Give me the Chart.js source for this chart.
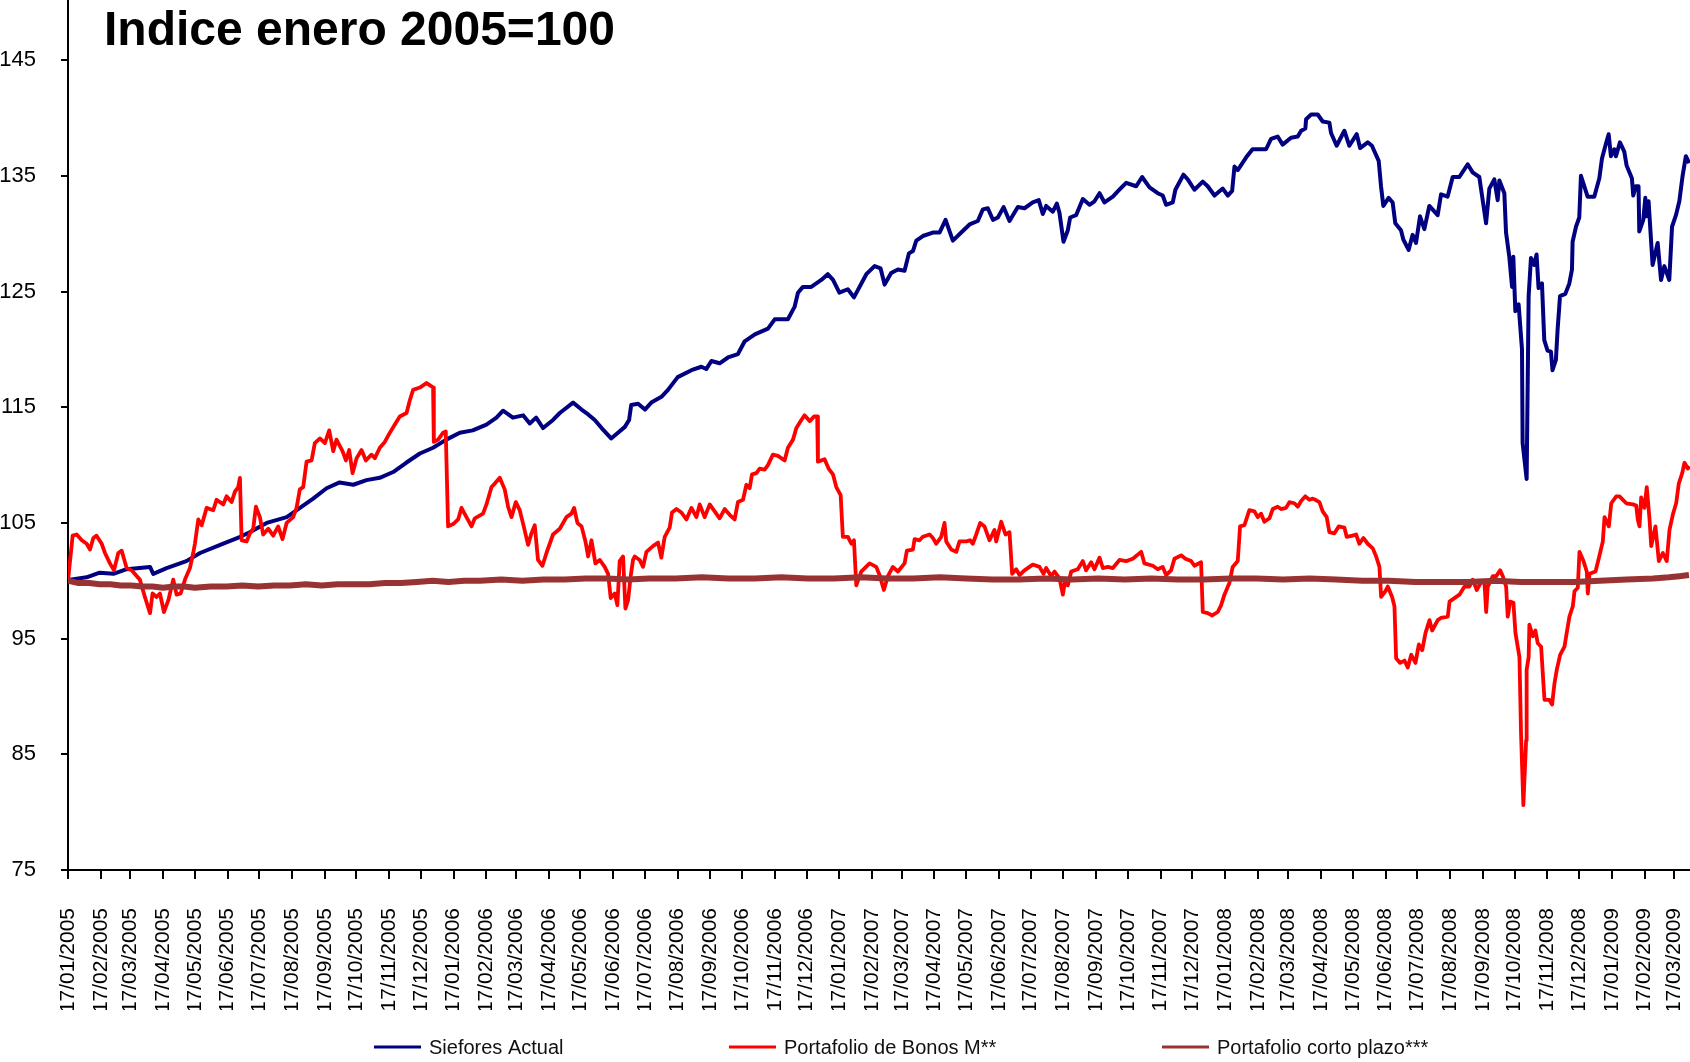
<!DOCTYPE html>
<html>
<head>
<meta charset="utf-8">
<script src="https://cdn.jsdelivr.net/npm/chart.js@4.4.1/dist/chart.umd.min.js"></script>
<style>
html,body{margin:0;padding:0;background:#fff;}
#wrap{width:1690px;height:1062px;position:relative;}
</style>
</head>
<body>
<div id="wrap"><canvas id="c" width="1690" height="1062"></canvas></div>
<script>
// ---- Data (x = days since 17/01/2005) ----
const chartTitle = 'Indice enero 2005=100';
const seriesNames = ['Siefores Actual', 'Portafolio de Bonos M**', 'Portafolio corto plazo***'];
const yTicks = [75, 85, 95, 105, 115, 125, 135, 145];
const tickLabels = [
 '17/01/2005','17/02/2005','17/03/2005','17/04/2005','17/05/2005','17/06/2005','17/07/2005','17/08/2005','17/09/2005','17/10/2005','17/11/2005','17/12/2005',
 '17/01/2006','17/02/2006','17/03/2006','17/04/2006','17/05/2006','17/06/2006','17/07/2006','17/08/2006','17/09/2006','17/10/2006','17/11/2006','17/12/2006',
 '17/01/2007','17/02/2007','17/03/2007','17/04/2007','17/05/2007','17/06/2007','17/07/2007','17/08/2007','17/09/2007','17/10/2007','17/11/2007','17/12/2007',
 '17/01/2008','17/02/2008','17/03/2008','17/04/2008','17/05/2008','17/06/2008','17/07/2008','17/08/2008','17/09/2008','17/10/2008','17/11/2008','17/12/2008',
 '17/01/2009','17/02/2009','17/03/2009'
];

const sieforesDay = [
 0,2,17.6,30,43,55.5,77.6,80.7,93.3,112,
 125,144,163,172,188,207,219.5,232,244.7,257,
 270,282.5,295,307.7,320,333,345.5,358,370.8,383,
 396,405.5,411.7,421,430.7,437,443,449.6,459,465.4,
 478,486,492,498.5,505,514,520.5,527,531,533,
 539.5,546,552,561.6,567.8,577,590,599.4,604,608.9,
 616.7,624.6,634,640.4,650,662.4,668.8,681.3,687.7,690.8,
 695.5,703.4,712.9,719,724,730,738,743.8,755.5,763.3,
 769,772.8,779,785.4,791.7,795.8,799.6,802.8,809,818.5,
 824.8,830.5,837.4,845.3,853.2,861,865.8,870.5,875.3,880,
 885.4,891,898.9,905.2,913,918.7,922.5,925.7,932,935.8,
 938.3,942.1,946.2,948.4,954,960.4,966.7,971.4,976.2,980.9,
 988.8,995,1001.4,1010.9,1016.5,1023.5,1031.3,1036,1039.2,1045.5,
 1048,1055.6,1059.7,1066,1073.9,1078.6,1085,1092.8,1097.6,1101.7,
 1103.9,1107,1115,1121,1133.8,1138.5,1144.8,1149.5,1157.4,1163.8,
 1167,1171,1171.7,1176.4,1182.7,1187.4,1193.7,1195.3,1200.6,1207.9,
 1212.6,1219.6,1222.8,1230,1234,1240.4,1242.6,1244.8,1249.8,1253.6,
 1256.1,1261.5,1263.7,1268.7,1272.5,1275.7,1279.5,1283.6,1288.3,1296.2,
 1299.4,1305.6,1310.4,1316.7,1324.6,1329.3,1335.6,1342,1345.1,1349.8,
 1353,1354.6,1359.3,1360.9,1364,1366.6,1367.8,1369.7,1372.8,1376,
 1376.6,1380.4,1382.3,1384.5,1387.6,1389.8,1391.7,1394.9,1397.1,1400.2,
 1403.4,1404.9,1408.1,1409.7,1412,1417,1420.8,1423.3,1423.9,1427.1,
 1430.2,1431.8,1438.1,1444.4,1449.2,1451.7,1455.5,1458,1460.2,1463.4,
 1464.9,1468.7,1472.8,1475,1480,1481.3,1483.8,1486.3,1487,1490.8,
 1492.7,1494,1495.8,1499.6,1504.4,1507.6,1510.7,1515.4,1518,1521.7,
 1524.9,1528,1531.1,1534.2
];
const sieforesValue = [
 100.0,100.1,100.3,100.7,100.6,101.0,101.2,100.6,101.1,101.7,
 102.4,103.1,103.8,104.2,105.0,105.5,106.3,107.1,108.0,108.5,
 108.3,108.7,108.9,109.4,110.2,111.0,111.5,112.2,112.8,113.0,
 113.5,114.1,114.7,114.1,114.3,113.6,114.1,113.2,113.9,114.5,
 115.4,114.8,114.4,113.9,113.2,112.3,112.8,113.3,113.9,115.2,
 115.3,114.8,115.4,115.9,116.5,117.6,118.2,118.5,118.3,119.0,
 118.8,119.3,119.6,120.7,121.3,121.8,122.6,122.6,123.7,124.9,
 125.4,125.4,126.0,126.5,126.0,124.9,125.2,124.5,126.5,127.2,
 127.0,125.6,126.6,126.9,126.8,128.3,128.5,129.4,129.8,130.1,
 130.1,131.2,129.4,130.1,130.8,131.1,132.1,132.2,131.2,131.4,
 132.3,131.1,132.3,132.2,132.7,132.9,131.7,132.4,131.9,132.6,
 131.8,129.3,130.3,131.4,131.6,133.0,132.5,132.8,133.5,132.7,
 133.2,133.8,134.4,134.1,134.9,134.0,133.5,133.3,132.5,132.7,
 133.8,135.1,134.7,133.8,134.5,134.1,133.3,133.9,133.3,133.7,
 135.8,135.5,136.6,137.3,137.3,138.2,138.4,137.7,138.3,138.4,
 138.9,139.1,139.9,140.3,140.3,139.7,139.6,138.7,137.6,138.9,
 137.6,138.6,137.4,137.9,137.6,136.3,134.1,132.4,133.1,132.7,
 130.9,130.3,129.5,128.6,129.9,129.2,131.5,130.4,132.4,131.6,
 133.4,133.2,134.9,134.9,136.0,135.3,134.9,130.9,133.9,134.7,
 132.9,134.6,133.5,130.1,128.0,125.4,128.0,123.3,123.9,120.0,
 111.9,108.8,124.6,127.9,127.3,128.2,125.3,125.7,120.8,119.9,
 119.8,118.2,119.1,121.7,124.6,124.8,125.7,126.9,129.3,130.6,
 131.4,135.0,133.2,133.2,134.8,136.5,137.8,138.6,136.7,137.3,
 136.7,137.9,137.1,135.9,134.8,133.3,134.1,134.1,130.2,131.2,
 133.1,131.5,132.8,127.3,129.2,126.0,127.2,126.0,130.6,131.6,
 132.8,135.0,136.7,136.1
];

const bonosDay = [
 0,4.4,8.2,13,17.7,20.8,24,27,31.9,35,
 39.7,43.5,47.6,50.8,55.5,60.2,68,72.8,77.6,80,
 83.8,87,90.8,94.9,99.6,102.8,106.6,110.7,115.4,118.5,
 120.1,123.3,126.5,131.2,137.5,140.6,146.9,150.1,154.8,158,
 161.1,162.7,164.3,169,172.2,175.3,177.8,181.6,184.7,189.5,
 194.2,198.9,203,206.9,213.1,216.3,219.4,222.6,225.8,230.5,
 233.6,238.4,243.1,247.2,251,254.1,259.8,263,266.1,269.3,
 273.1,277.8,281.9,287.2,290.4,295.1,299.8,304.6,309.3,314,
 320.4,323.5,326.6,333,339.3,344,345.5,346.2,350.3,355,
 357.5,359.7,364.5,369.2,372.4,377.1,381.9,385,392.8,396,
 400.8,403.9,408.6,413.3,416.5,419.7,423.8,427.5,431.3,435.4,
 438.6,441.7,444.8,449,452.8,459,465.4,471.7,476.4,479,
 482.1,486,489.7,492.2,495.4,499.1,503.2,507.9,511.1,513.6,
 517.4,519.9,522.1,525.3,527.5,530,532.5,534.7,536.3,541,
 544.2,547.4,553.6,558.4,561.5,564.7,569.4,571.6,575.8,580.5,
 585.2,590,594.7,597.8,602.5,607.3,612,616.7,621.4,626.2,
 630.9,634,638.8,642,645.1,647.3,651.4,654.6,659.3,662.4,
 667.1,671.9,678.2,681.3,686.1,689.3,694,697,702,706,
 709,709.7,716,719.8,723.9,727.1,731.2,733.3,738.1,741.3,
 743.8,746,750.7,758.6,764.9,768,772.1,775.9,780.6,785.4,
 791.7,793.9,799.6,801.2,805.9,809,815.4,818.5,821.7,826.4,
 829.5,831.1,835.9,840.6,843.7,850.1,853.8,856.3,859.5,863.3,
 867.3,872.1,876.8,878.4,883.2,887.2,891,893.5,897.3,900.5,
 905.2,909.9,913,919.4,923.2,925.7,930.5,933.6,938.3,941.5,
 943.7,946.2,949.4,955.6,960.4,963.5,968.3,971.4,976.2,979.3,
 984,988.8,995.1,1001.4,1007.7,1015.6,1018.7,1026.6,1031.3,1036,
 1039.2,1043.9,1047.1,1053.4,1057.5,1062.9,1066,1072.3,1073.9,1078.6,
 1082.8,1088.1,1091.3,1094.4,1099.1,1102.2,1107,1109.2,1113.3,1118,
 1122.8,1125.9,1129.1,1132.2,1137,1140.1,1144.8,1148,1152.7,1155.9,
 1160.6,1163.8,1167,1171,1174.8,1178,1180.5,1184.3,1187.4,1191.2,
 1193.7,1198.5,1202.5,1207.9,1210.1,1215.8,1219,1222.1,1225.9,1230,
 1234.8,1238,1241.1,1242.7,1246.8,1249,1253.1,1255.3,1256.9,1260.7,
 1264.8,1267.9,1271.2,1275.2,1278.4,1281.6,1284.7,1288.5,1291,1296.3,
 1299.5,1305.8,1307.4,1312.1,1316.8,1321.6,1326.3,1329.4,1333.2,1337.4,
 1340.5,1342.1,1343.6,1348.4,1351.6,1355.3,1357.8,1361,1362.5,1364.8,
 1367.9,1369.8,1373.6,1375.1,1377.3,1379.9,1380.4,1382.3,1383,1386.2,
 1388.7,1390.9,1394.1,1396.3,1397.3,1402,1404.5,1406.7,1408.9,1412.1,
 1416.2,1417.8,1420.9,1424.1,1425.7,1428.8,1430.4,1434.2,1437.3,1438.3,
 1439.9,1445.6,1449.4,1452.5,1454.1,1458.2,1460.5,1465.2,1468.3,1474.7,
 1480.9,1484.1,1485.6,1487.2,1488.8,1491.9,1494.1,1496.7,1498.3,1502.3,
 1505.5,1509.3,1513,1515.6,1518.7,1521.9,1524.4,1527.6,1529.8,1532.9,
 1534.5
];
const bonosValue = [
 100.0,103.9,104.0,103.5,103.2,102.7,103.7,103.9,103.2,102.4,
 101.5,100.9,102.4,102.6,101.1,100.9,100.1,98.6,97.2,98.9,
 98.6,98.9,97.3,98.3,100.1,98.8,98.9,100.1,101.1,102.4,
 103.2,105.3,104.8,106.3,106.1,107.0,106.6,107.3,106.8,107.7,
 108.1,108.9,103.5,103.4,104.1,104.5,106.4,105.5,104.0,104.5,
 103.9,104.7,103.6,105.0,105.5,106.3,107.9,108.1,110.3,110.4,
 111.9,112.3,111.9,113.0,111.2,112.2,111.2,110.4,111.3,109.3,
 110.6,111.3,110.4,110.9,110.6,111.5,112.0,112.8,113.5,114.2,
 114.5,115.6,116.5,116.7,117.1,116.8,116.7,112.0,112.2,112.8,
 112.9,104.7,104.9,105.3,106.3,105.5,104.7,105.4,105.8,106.6,
 108.1,108.4,108.9,107.9,106.4,105.5,106.8,106.1,104.7,103.1,
 104.1,104.8,101.8,101.3,102.4,104.0,104.5,105.5,105.8,106.3,
 105.0,104.7,103.4,102.1,103.5,101.5,101.8,101.2,100.6,98.5,
 98.9,97.9,101.7,102.1,97.6,98.3,100.4,101.8,102.1,101.8,
 101.2,102.5,103.0,103.3,102.0,103.8,104.6,105.9,106.2,105.9,
 105.3,106.3,105.5,106.6,105.5,106.6,106.0,105.4,106.2,105.7,
 105.3,106.8,107.0,108.3,108.0,109.2,109.3,109.7,109.6,110.0,
 110.9,110.8,110.4,111.5,112.2,113.2,113.9,114.3,113.8,114.2,
 114.2,110.3,110.5,109.7,109.2,108.1,107.4,103.8,103.8,103.2,
 103.5,99.6,100.8,101.5,101.2,100.5,99.2,100.4,101.2,100.8,
 101.5,102.6,102.7,103.6,103.5,103.8,104.0,103.7,103.2,103.8,
 105.0,103.4,102.7,102.5,103.4,103.4,103.5,103.2,104.0,105.0,
 104.7,103.5,104.4,103.4,105.1,104.0,104.2,100.6,101.0,100.5,
 100.9,101.2,101.4,101.2,100.6,101.1,100.4,100.8,100.2,98.8,
 100.1,99.6,100.8,101.0,101.7,100.9,101.6,101.0,102.0,101.1,
 101.2,101.1,101.8,101.7,101.9,102.5,101.5,101.3,101.0,101.2,
 100.5,100.9,101.9,102.2,101.9,101.7,101.3,101.6,97.3,97.2,
 97.0,97.3,97.9,98.8,99.8,101.2,101.7,104.7,104.8,106.1,
 106.0,105.5,105.8,105.1,105.4,106.2,106.4,106.2,106.3,106.8,
 106.7,106.4,106.9,107.3,107.0,107.1,107.0,106.8,106.0,105.5,
 104.2,104.1,104.7,104.6,103.8,103.9,104.0,103.2,103.7,103.2,
 102.8,102.1,101.2,98.6,99.1,99.5,98.6,97.8,93.3,92.9,
 93.1,92.5,93.6,92.9,94.5,94.0,95.5,96.6,95.7,96.6,
 96.8,96.9,98.2,98.5,98.8,99.5,99.5,100.1,99.2,99.9,
 99.8,97.3,99.5,100.4,100.4,100.9,100.4,99.5,96.9,98.2,
 98.1,95.5,93.4,86.8,80.6,86.2,92.3,93.4,96.2,95.2,
 95.7,94.6,94.3,91.1,89.7,89.7,89.3,91.1,92.3,93.6,
 94.3,95.2,96.9,97.8,99.1,99.4,102.5,101.7,100.8,98.9,
 100.6,100.8,102.2,103.4,105.5,104.7,106.7,107.3,107.3,106.7,
 106.6,106.5,105.3,104.7,107.2,106.3,108.1,105.3,103.0,104.7,
 101.7,102.4,101.7,104.4,105.7,106.7,108.4,109.3,110.2,109.7,
 109.9
];

const cortoDay = [
 0,10,20,30,40,50,60,70,80,90,
 100,110,120,135,150,165,180,195,210,225,
 240,255,270,285,300,315,330,345,360,375,
 390,410,430,450,470,490,510,530,550,575,
 600,625,650,675,700,725,750,775,800,825,
 850,875,900,925,950,975,1000,1025,1050,1075,
 1100,1125,1150,1175,1200,1225,1250,1275,1300,1325,
 1350,1375,1400,1425,1450,1475,1500,1515,1525,1534
];
const cortoValue = [
 100.0,99.8,99.8,99.7,99.7,99.6,99.6,99.5,99.5,99.4,
 99.5,99.5,99.4,99.5,99.5,99.6,99.5,99.6,99.6,99.7,
 99.6,99.7,99.7,99.7,99.8,99.8,99.9,100.0,99.9,100.0,
 100.0,100.1,100.0,100.1,100.1,100.2,100.2,100.1,100.2,100.2,
 100.3,100.2,100.2,100.3,100.2,100.2,100.3,100.2,100.2,100.3,
 100.2,100.1,100.1,100.2,100.1,100.2,100.1,100.2,100.1,100.1,
 100.2,100.2,100.1,100.2,100.1,100.0,100.0,99.9,99.9,99.9,
 100.0,99.9,99.9,99.9,100.0,100.1,100.2,100.3,100.4,100.5
];

// ---- Helpers ----
function dayOffset(label) {
  const [d, m, y] = label.split('/').map(Number);
  return Math.round((Date.UTC(y, m - 1, d) - Date.UTC(2005, 0, 17)) / 86400000);
}
const tickDays = tickLabels.map(dayOffset);
function toXY(xs, ys) { return xs.map((x, i) => ({ x: x, y: ys[i] })); }

const FAM = '"Liberation Sans", Arial, Helvetica, sans-serif';
Chart.defaults.font.family = FAM;
const colors = ['#000080', '#FF0000', '#993333'];

const decor = {
  id: 'decor',
  afterDraw(chart) {
    const c = chart.ctx;
    c.save();
    c.fillStyle = '#000';
    c.font = 'bold 48px ' + FAM;
    c.textAlign = 'left';
    c.textBaseline = 'alphabetic';
    c.fillText(chartTitle, 104, 45);
    // legend
    const lx = [374, 729, 1162];
    const ly = 1047;
    c.font = '20px ' + FAM;
    c.textBaseline = 'middle';
    chart.data.datasets.forEach((ds, i) => {
      c.strokeStyle = ds.borderColor;
      c.lineWidth = 3;
      c.beginPath();
      c.moveTo(lx[i], ly);
      c.lineTo(lx[i] + 47, ly);
      c.stroke();
      c.fillStyle = '#111';
      c.fillText(ds.label, lx[i] + 55, ly + 1);
    });
    c.restore();
  }
};

new Chart(document.getElementById('c'), {
  type: 'line',
  data: {
    datasets: [
      { label: seriesNames[0], data: toXY(sieforesDay, sieforesValue), borderColor: colors[0], backgroundColor: colors[0], borderWidth: 4, pointRadius: 0, tension: 0, borderJoinStyle: 'round', order: 2 },
      { label: seriesNames[1], data: toXY(bonosDay, bonosValue), borderColor: colors[1], backgroundColor: colors[1], borderWidth: 3.8, pointRadius: 0, tension: 0, borderJoinStyle: 'round', order: 1 },
      { label: seriesNames[2], data: toXY(cortoDay, cortoValue), borderColor: colors[2], backgroundColor: colors[2], borderWidth: 6, pointRadius: 0, tension: 0, borderJoinStyle: 'round', order: 0 }
    ]
  },
  options: {
    responsive: false,
    animation: false,
    events: [],
    layout: { padding: { top: 0, right: 0, bottom: 52, left: 0 } },
    plugins: { legend: { display: false }, tooltip: { enabled: false }, title: { display: false } },
    scales: {
      x: {
        type: 'linear', min: 0, max: 1535,
        afterBuildTicks: s => { s.ticks = tickDays.map(v => ({ value: v })); },
        afterFit: s => { s.height = 140; s.paddingLeft = 0; s.paddingRight = 0; },
        ticks: {
          autoSkip: false, maxRotation: 90, minRotation: 90, padding: 29, color: '#000',
          font: { family: FAM, size: 21 },
          callback: (v, i) => tickLabels[i]
        },
        grid: { display: true, drawOnChartArea: false, drawTicks: true, tickLength: 9, color: '#000', lineWidth: 2 },
        border: { display: true, color: '#000', width: 2 }
      },
      y: {
        min: 75, max: 150.2,
        afterBuildTicks: s => { s.ticks = yTicks.map(v => ({ value: v })); },
        afterFit: s => { s.width = 68; s.paddingTop = 0; s.paddingBottom = 0; },
        ticks: { padding: 25, color: '#000', font: { family: FAM, size: 22 }, callback: v => String(v) },
        grid: { display: true, drawOnChartArea: false, drawTicks: true, tickLength: 7, color: '#000', lineWidth: 2 },
        border: { display: true, color: '#000', width: 2 }
      }
    }
  },
  plugins: [decor]
});
</script>
</body>
</html>
